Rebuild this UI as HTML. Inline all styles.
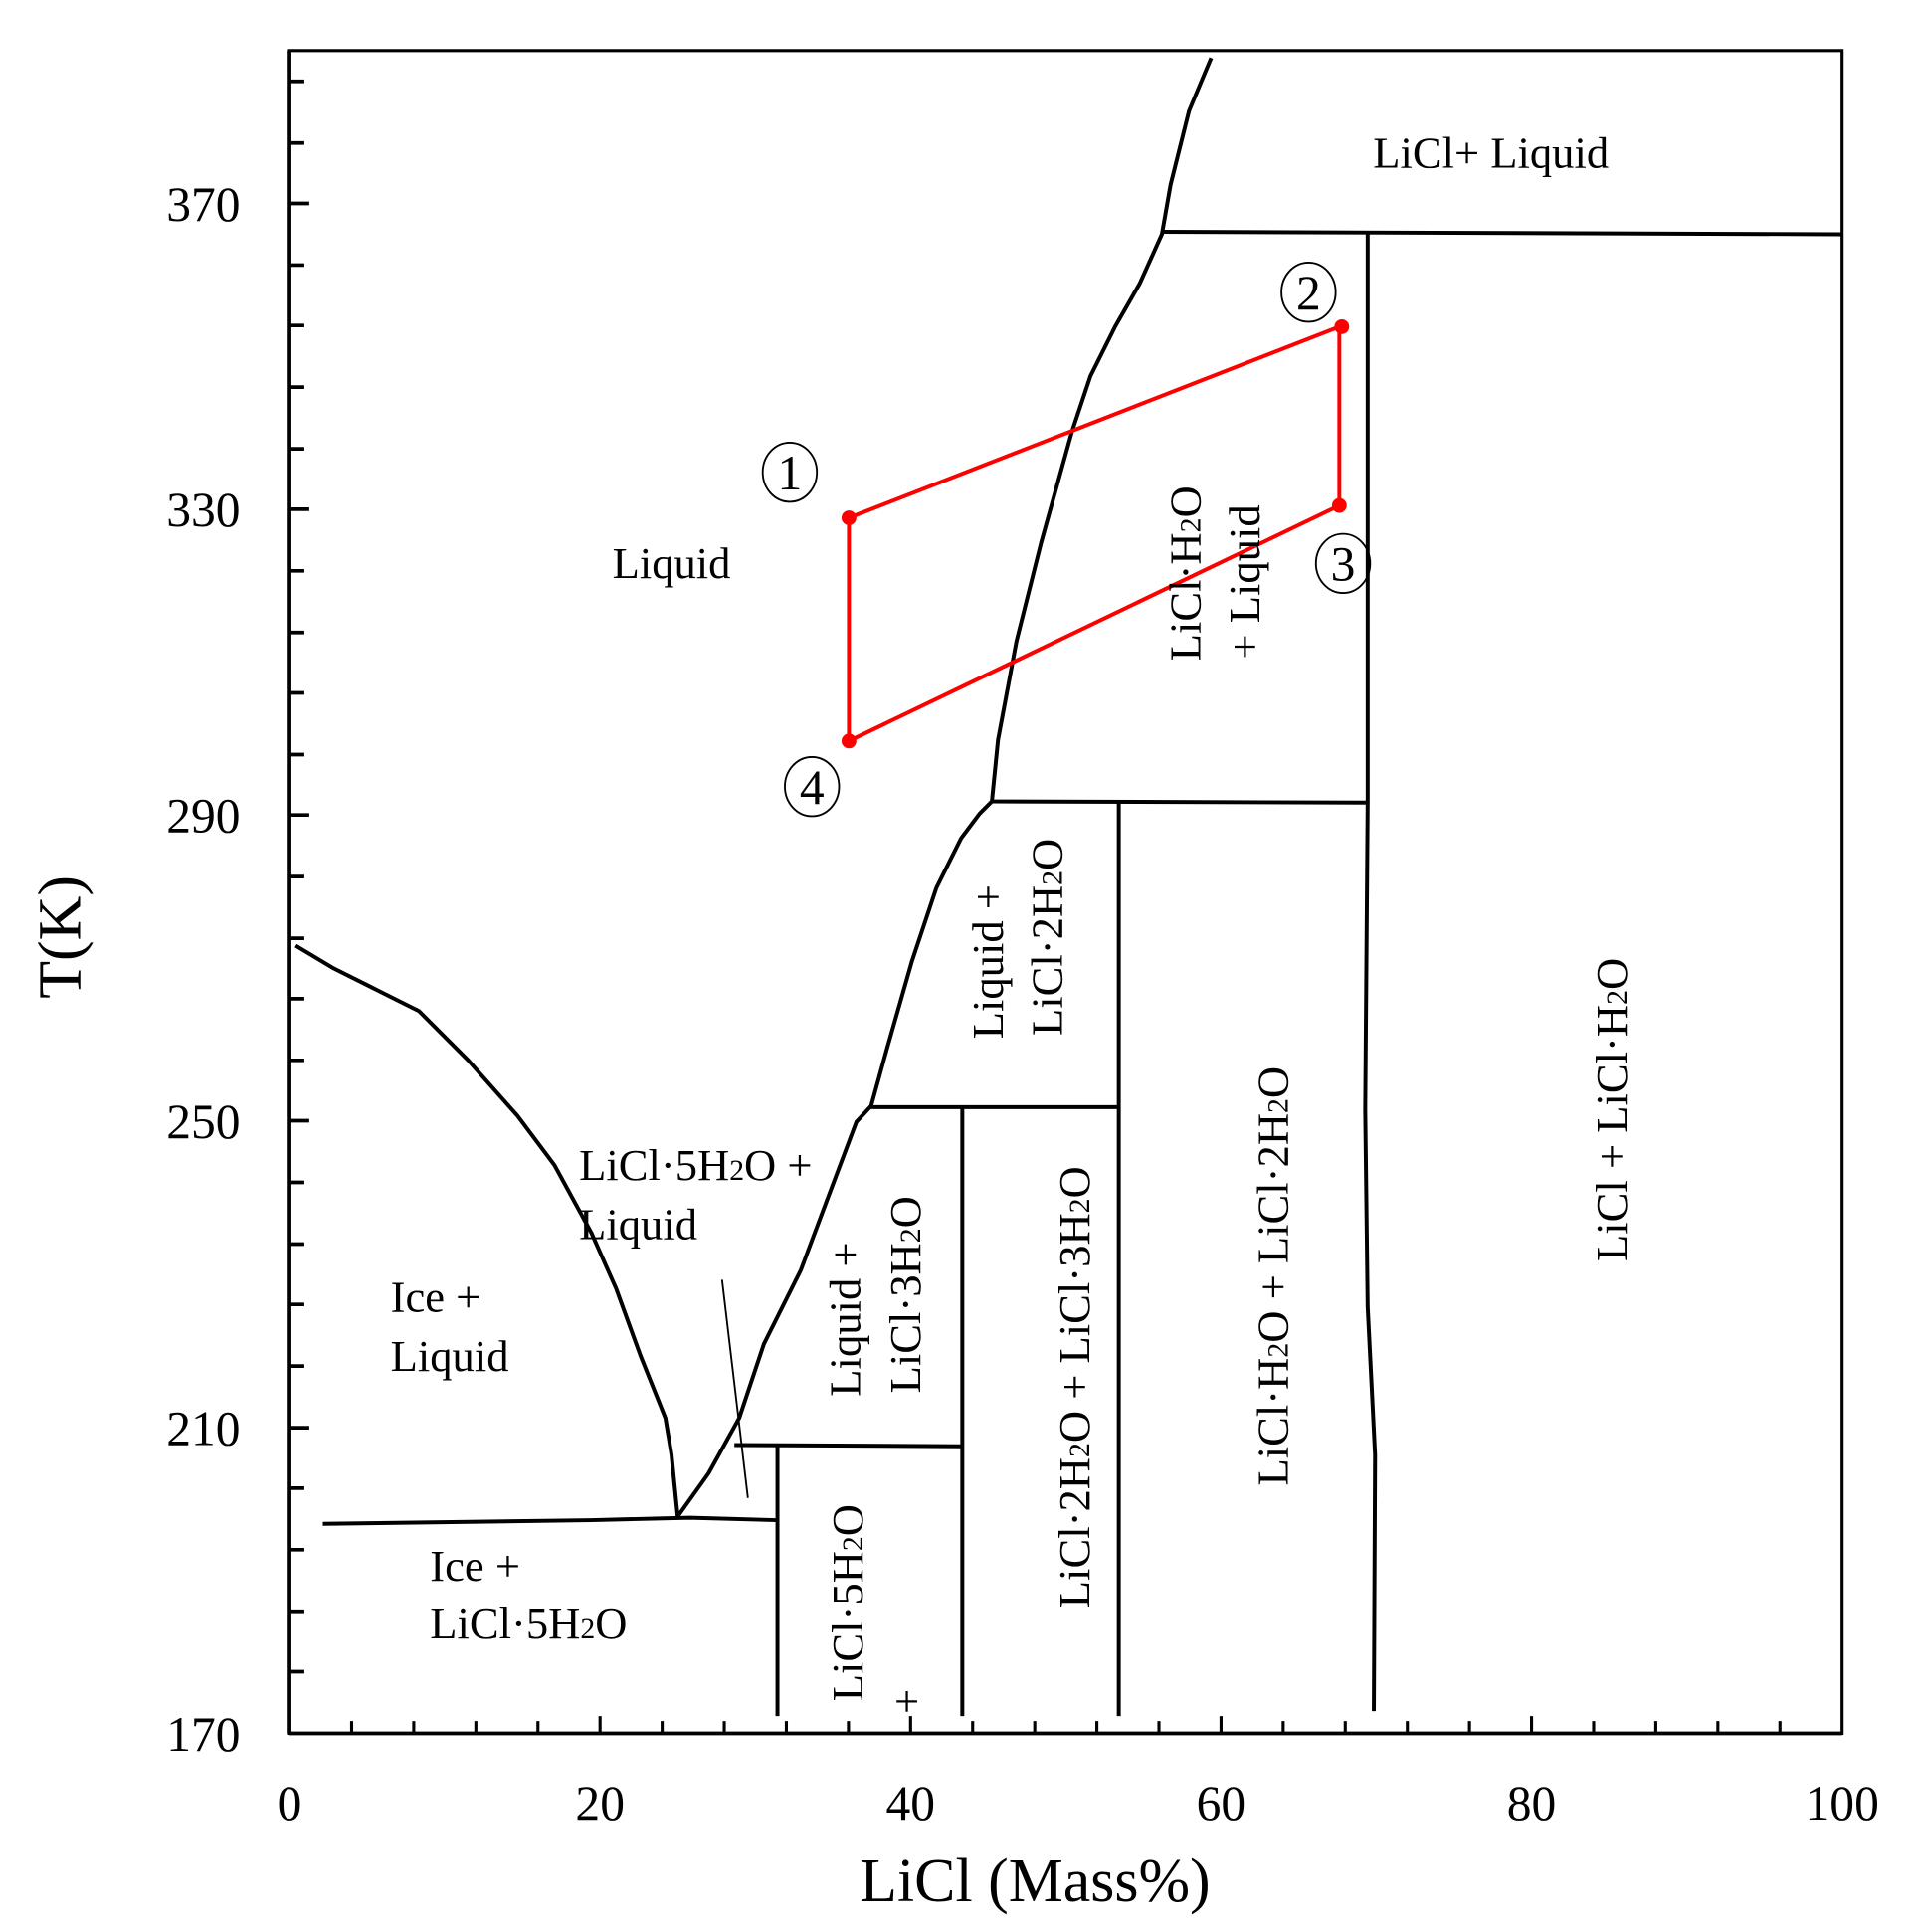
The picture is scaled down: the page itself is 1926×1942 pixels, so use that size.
<!DOCTYPE html>
<html><head><meta charset="utf-8"><style>
html,body{margin:0;padding:0;background:#fff;}
svg{display:block;}
text{font-family:"Liberation Serif",serif;fill:#000;}
</style></head><body>
<svg width="1926" height="1942" viewBox="0 0 1555 1567" preserveAspectRatio="none" xmlns="http://www.w3.org/2000/svg">
<g stroke="#000" fill="none">
<rect x="235" y="41" width="1260" height="1365" stroke-width="2.5"/>
<line x1="235" y1="1406" x2="1495" y2="1406" stroke-width="3"/>
<line x1="235" y1="41" x2="235" y2="1406" stroke-width="3"/>
<g stroke-width="3">
<path d="M235 66h12M235 116h12M235 165h16M235 215h12M235 264h12M235 314h12M235 364h12M235 413h16M235 463h12M235 513h12M235 562h12M235 612h12M235 661h16M235 711h12M235 761h12M235 810h12M235 860h12M235 909h16M235 959h12M235 1009h12M235 1058h12M235 1108h12M235 1158h16M235 1207h12M235 1257h12M235 1307h12M235 1356h12"/>
</g>
<g stroke-width="2.5">
<path d="M235 1406v-14M285.4 1406v-10M335.8 1406v-10M386.2 1406v-10M436.6 1406v-10M487 1406v-14M537.4 1406v-10M587.8 1406v-10M638.2 1406v-10M688.6 1406v-10M739 1406v-14M789.4 1406v-10M839.8 1406v-10M890.2 1406v-10M940.6 1406v-10M991 1406v-14M1041.4 1406v-10M1091.8 1406v-10M1142.2 1406v-10M1192.6 1406v-10M1243 1406v-14M1293.4 1406v-10M1343.8 1406v-10M1394.2 1406v-10M1444.6 1406v-10"/>
</g>
<g stroke-width="3.2" stroke-linejoin="round">
<path d="M240 767 L270 785 L300 800 L340 820 L380 860 L420 905 L450 945 L480 1000 L500 1045 L520 1100 L540 1150 L545 1180 L550 1230"/>
<path d="M262 1236 L480 1233 L560 1231 L630 1233"/>
<path d="M550 1230 L575 1195 L600 1150 L620 1090 L650 1030 L680 950 L695 910 L707 897 L720 850 L740 780 L760 720 L780 680 L795 660 L805 650 L810 600 L825 520 L845 440 L870 350 L885 305 L905 265 L925 230 L943 190 L950 150 L965 90 L983 47"/>
<path d="M943 188 L1495 190"/>
<path d="M1110 188 L1110 650 L1108 900 L1110 1060 L1116 1180 L1115 1388"/>
<path d="M805 650 L1110 651"/>
<path d="M908 650 L908 1392"/>
<path d="M707 898 L908 898"/>
<path d="M781 898 L781 1392"/>
<path d="M596 1172 L781 1173"/>
<path d="M631 1172 L631 1392"/>
</g>
<line x1="586" y1="1038" x2="607" y2="1215" stroke-width="1.5"/>
<g stroke="#f00" stroke-width="3.2">
<path d="M689 420 L1087 265 L1087 410 L689 601 Z"/>
</g>
<g stroke-width="1.5">
<ellipse cx="641" cy="383" rx="22" ry="24"/>
<ellipse cx="1062" cy="237" rx="22" ry="24"/>
<ellipse cx="1090" cy="457" rx="22" ry="24"/>
<ellipse cx="659" cy="638" rx="22" ry="24"/>
</g>
</g>
<g fill="#f00"><circle cx="689" cy="420" r="6"/><circle cx="1089" cy="265" r="6"/><circle cx="1087" cy="410" r="6"/><circle cx="689" cy="601" r="6"/></g>
<g font-size="40" text-anchor="middle">
<text x="641" y="397">1</text><text x="1062" y="251">2</text><text x="1090" y="471">3</text><text x="659" y="652">4</text>
</g>
<g font-size="40" text-anchor="end">
<text x="195" y="179">370</text><text x="195" y="427">330</text><text x="195" y="675">290</text><text x="195" y="923">250</text><text x="195" y="1172">210</text><text x="195" y="1420">170</text>
</g>
<g font-size="40" text-anchor="middle">
<text x="235" y="1476">0</text><text x="487" y="1476">20</text><text x="739" y="1476">40</text><text x="991" y="1476">60</text><text x="1243" y="1476">80</text><text x="1495" y="1476">100</text>
</g>
<text x="840" y="1542" font-size="50" text-anchor="middle">LiCl (Mass%)</text>
<text transform="translate(65,760) rotate(-90)" font-size="50" text-anchor="middle">T(K)</text>
<g font-size="36">
<text x="1210" y="136" text-anchor="middle">LiCl+ Liquid</text>
<text x="545" y="469" text-anchor="middle">Liquid</text>
<text x="317" y="1064">Ice +</text><text x="317" y="1112">Liquid</text>
<text x="470" y="957">LiCl·5H<tspan font-size="24">2</tspan>O +</text><text x="470" y="1005">Liquid</text>
<text x="349" y="1282">Ice +</text><text x="349" y="1328">LiCl·5H<tspan font-size="24">2</tspan>O</text>
<text x="736" y="1392" text-anchor="middle">+</text>
<g text-anchor="middle">
<text transform="translate(974,465) rotate(-90)">LiCl·H<tspan font-size="24">2</tspan>O</text>
<text transform="translate(1022,472) rotate(-90)">+ Liquid</text>
<text transform="translate(814,780) rotate(-90)">Liquid +</text>
<text transform="translate(862,760) rotate(-90)">LiCl·2H<tspan font-size="24">2</tspan>O</text>
<text transform="translate(698,1070) rotate(-90)">Liquid +</text>
<text transform="translate(747,1050) rotate(-90)">LiCl·3H<tspan font-size="24">2</tspan>O</text>
<text transform="translate(884,1125) rotate(-90)">LiCl·2H<tspan font-size="24">2</tspan>O + LiCl·3H<tspan font-size="24">2</tspan>O</text>
<text transform="translate(1045,1035) rotate(-90)">LiCl·H<tspan font-size="24">2</tspan>O + LiCl·2H<tspan font-size="24">2</tspan>O</text>
<text transform="translate(1320,900) rotate(-90)">LiCl + LiCl·H<tspan font-size="24">2</tspan>O</text>
<text transform="translate(700,1300) rotate(-90)">LiCl·5H<tspan font-size="24">2</tspan>O</text>
</g>
</g>
</svg>
</body></html>
